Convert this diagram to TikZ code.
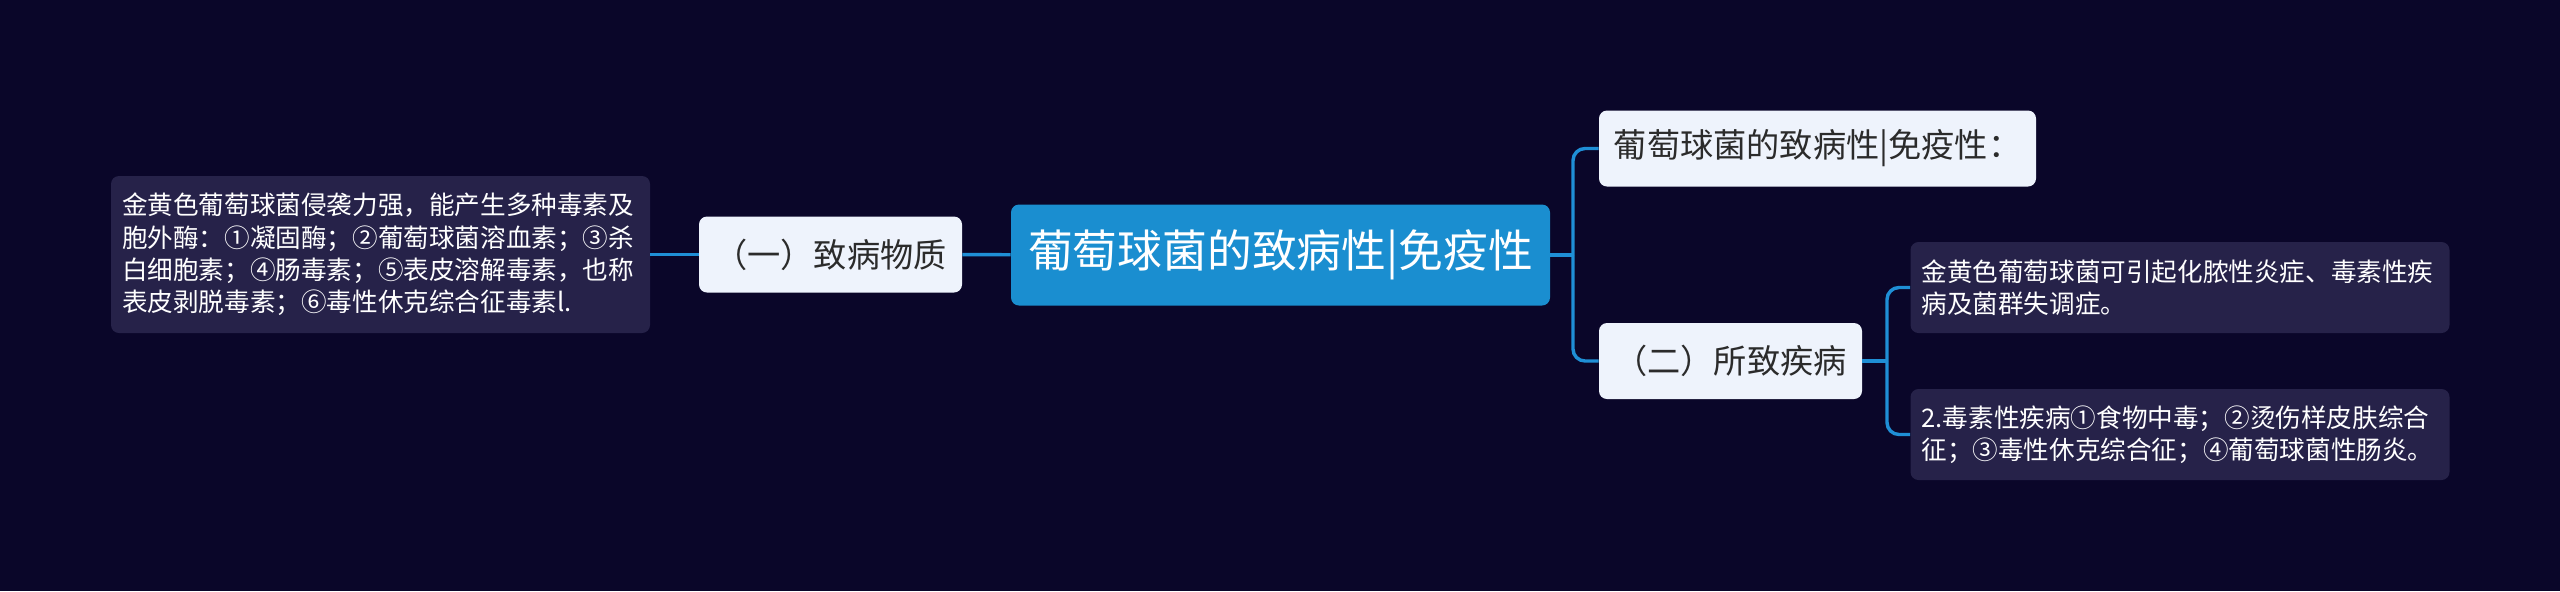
\documentclass[tikz,border=0pt]{standalone}
\usepackage{fontspec}
\newfontfamily\cjk{Noto Sans CJK SC}
\definecolor{bgcol}{HTML}{0A0629}
\definecolor{rootcol}{HTML}{1A8ED0}
\definecolor{topiccol}{HTML}{EEF3FC}
\definecolor{leafcol}{HTML}{262249}
\definecolor{linkcol}{HTML}{1F8FD6}
\definecolor{inkcol}{HTML}{2B2B2B}
\tikzset{
  rootbox/.style={rectangle, rounded corners=4pt, fill=rootcol, text=white, inner sep=0pt,
    minimum width=269.5pt, minimum height=50.5pt, font=\cjk\fontsize{22.4}{26}\selectfont},
  topicbox/.style={rectangle, rounded corners=4pt, fill=topiccol, text=inkcol, inner sep=0pt,
    minimum height=38pt, font=\cjk\fontsize{16.6}{20}\selectfont},
  leafbox/.style={rectangle, rounded corners=4pt, fill=leafcol, text=white, inner xsep=5.5pt,
    inner ysep=0pt, text width=258.5pt, align=left, font=\cjk\fontsize{12.8}{16.2}\selectfont},
  link/.style={draw=linkcol, line width=1.7pt},
}
\begin{document}
\begin{tikzpicture}[x=0.5pt, y=-0.5pt]
    \fill[bgcol] (0,0) rectangle (2560,591);
    \useasboundingbox (0,0) rectangle (2560,591);
    \node[rootbox] (root) at (1280.5,255) {葡萄球菌的致病性|免疫性};
    \node[topicbox, minimum width=131.5pt] (cause) at (830.5,254.5) {（一）致病物质};
    \node[leafbox, minimum height=78.5pt] (causeleaf) at (380.5,254.5) {金黄色葡萄球菌侵袭力强，能产生多种毒素及\\胞外酶：①凝固酶；②葡萄球菌溶血素；③杀\\白细胞素；④肠毒素；⑤表皮溶解毒素，也称\\表皮剥脱毒素；⑥毒性休克综合征毒素l.};
    \node[topicbox, minimum width=218.5pt] (title) at (1817.5,148.5) {葡萄球菌的致病性|免疫性：};
    \node[topicbox, minimum width=131.5pt] (disease) at (1730.5,361) {（二）所致疾病};
    \node[leafbox, minimum height=45.5pt] (disleafa) at (2180,287.5) {金黄色葡萄球菌可引起化脓性炎症、毒素性疾\\病及菌群失调症。};
    \node[leafbox, minimum height=45.5pt] (disleafb) at (2180,434.5) {2.毒素性疾病①食物中毒；②烫伤样皮肤综合\\征；③毒性休克综合征；④葡萄球菌性肠炎。};
    \coordinate (forka) at (1573,255);
    \coordinate (forkb) at (1887,361);
    \path (root) edge[link] (cause);
    \path (cause) edge[link] (causeleaf);
    \draw[link] (root.east) -- (forka);
    \draw[link, rounded corners=6pt] (forka) |- (title.west);
    \draw[link, rounded corners=6pt] (forka) |- (disease.west);
    \draw[link] (disease.east) -- (forkb);
    \draw[link, rounded corners=6pt] (forkb) |- (disleafa.west);
    \draw[link, rounded corners=6pt] (forkb) |- (disleafb.west);
\end{tikzpicture}
\end{document}
